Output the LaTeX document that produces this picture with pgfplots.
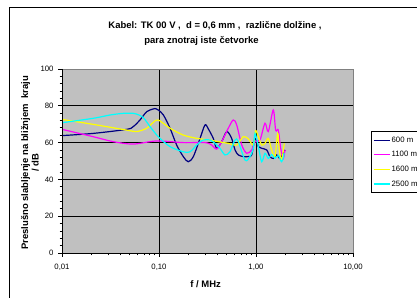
\documentclass[border=0pt]{standalone}
\usepackage{pgfplots}
\pgfplotsset{compat=1.18}
\usepackage{fontspec}
\setmainfont{Liberation Sans}
\definecolor{navyc}{HTML}{000080}
\definecolor{magc}{HTML}{FF00FF}
\definecolor{yelc}{HTML}{FFFF00}
\definecolor{cyac}{HTML}{00FFFF}
\definecolor{bgc}{HTML}{C0C0C0}
\definecolor{brd}{HTML}{808080}
\newcommand{\lblfont}{\fontsize{9.5}{11}\selectfont\bfseries}
\newcommand{\tickfont}{\fontsize{7.8}{9}\selectfont}
\begin{document}
\begin{tikzpicture}[x=1bp,y=1bp]
\useasboundingbox (0,0) rectangle (417,298);
\fill[white] (0,0) rectangle (417,298);
\draw[black, line width=1bp] (9.5,-5) -- (9.5,290.5) -- (430,290.5);
\node[font=\lblfont, anchor=base] at (215,270) {Kabel: TK 00 V ,~ d = 0,6 mm ,~ različne dolžine ,};
\node[font=\lblfont, anchor=base] at (201.5,255) {para znotraj iste četvorke};
\node[font=\lblfont, rotate=90, anchor=base] at (28,135) {Preslušno slabljenje na bližnjem~ kraju};
\node[font=\lblfont, rotate=90, anchor=base] at (38.5,135) {/ dB};
\node[font=\lblfont, anchor=base] at (205.7,11) {f / MHz};
\begin{axis}[
  at={(62bp,45bp)}, anchor=south west,
  scale only axis, width=291bp, height=184bp,
  xmode=log, xmin=0.01, xmax=10, ymin=0, ymax=100,
  xtick={0.01,0.1,1,10},
  xticklabels={{0,01},{0,10},{1,00},{10,00}},
  ytick={0,20,40,60,80,100},
  yticklabels={0,20,40,60,80,100},
  minor y tick num=4,
  xtick pos=bottom, ytick pos=left,
  tick align=outside,
  major tick length=4bp, minor tick length=2.5bp,
  tick style={black, line width=0.8bp},
  xmajorgrids, ymajorgrids,
  major grid style={black, line width=0.8bp},
  axis line style={draw=none},
  axis background/.style={fill=bgc},
  ticklabel style={font=\tickfont},
  xticklabel style={anchor=base, yshift=-12bp},
  yticklabel style={anchor=east, xshift=-1bp},
  legend style={at={(1.062,0.663)}, anchor=north west, draw=black, line width=0.8bp,
    inner sep=1.5bp, font=\tickfont,
    nodes={inner xsep=1.5bp, inner ysep=3.3bp, text height=6bp, text depth=2bp}},
  legend cell align=left,
  legend image code/.code={\draw[#1, line width=1.2bp] (0bp,0bp) -- (16bp,0bp);},
  every axis plot/.append style={line width=1.2bp, smooth, no markers},
  after end axis/.code={
    \draw[brd, line width=0.8bp] (rel axis cs:0,1) -- (rel axis cs:1,1) -- (rel axis cs:1,0);
    \draw[black, line width=0.8bp] (rel axis cs:0,1) -- (rel axis cs:0,0) -- (rel axis cs:1,0);
  },
]
\addplot[navyc] coordinates {
(0.01,63.8) (0.021,65.0) (0.0464,67.2) (0.0543,68.7) (0.0637,72.3) (0.0747,76.8)
(0.0874,78.3) (0.0909,78.5) (0.0984,77.7) (0.111,75.0) (0.130,67.8) (0.152,58.7)
(0.178,52.4) (0.200,49.6) (0.226,52.4) (0.265,62.3) (0.298,69.6) (0.322,67.5)
(0.363,62.3) (0.393,56.9) (0.443,60.5) (0.50,66.0) (0.561,62.3) (0.608,56.0)
(0.657,53.3) (0.740,52.4) (0.834,52.4) (0.903,53.3) (0.977,62.3) (1.057,57.8)
(1.145,56.9) (1.289,56.0) (1.393,52.4) (1.507,51.4) (1.634,53.3) (1.767,51.4)
(1.911,54.2) (1.99,56.0)
};
\addlegendentry{600 m}
\addplot[magc] coordinates {
(0.01,67.2) (0.021,63.2) (0.0338,60.5) (0.0543,59.2) (0.0947,60.9) (0.178,60.0)
(0.298,60.0) (0.349,58.7) (0.393,56.5) (0.443,60.5) (0.518,67.8) (0.583,72.3)
(0.632,69.6) (0.713,58.7) (0.802,54.2) (0.903,56.0) (0.977,60.5) (1.099,61.4)
(1.238,70.5) (1.339,66.0) (1.507,77.7) (1.595,66.8) (1.698,66.8) (1.797,56.9)
(1.911,51.4) (1.99,56.0)
};
\addlegendentry{1100 m}
\addplot[yelc] coordinates {
(0.01,72.6) (0.021,69.9) (0.0464,66.8) (0.0589,66.0) (0.0747,67.8) (0.0874,71.0)
(0.0984,72.3) (0.130,67.8) (0.178,64.1) (0.245,62.3) (0.336,61.4) (0.408,60.5)
(0.518,59.6) (0.632,58.7) (0.740,63.2) (0.834,62.0) (0.938,58.7) (0.99,66.5)
(1.057,63.2) (1.145,58.7) (1.238,59.6) (1.339,62.3) (1.451,56.0) (1.569,52.4)
(1.673,65.0) (1.739,56.0) (1.840,50.5) (1.957,59.6)
};
\addlegendentry{1600 m}
\addplot[cyac] coordinates {
(0.01,70.8) (0.021,73.2) (0.0313,75.0) (0.0429,75.9) (0.0543,75.9) (0.0589,75.5)
(0.0689,73.6) (0.0808,68.7) (0.0947,64.1) (0.1024,62.3) (0.130,57.8) (0.178,55.0)
(0.209,55.0) (0.245,58.7) (0.286,61.4) (0.336,61.4) (0.378,59.6) (0.425,56.9)
(0.479,53.3) (0.539,55.0) (0.632,62.0) (0.771,50.5) (0.867,52.4) (0.938,56.9)
(0.977,65.0) (1.057,57.8) (1.145,49.6) (1.238,54.2) (1.339,51.4) (1.451,53.5)
(1.569,51.4) (1.698,53.0) (1.840,49.6) (1.957,54.2)
};
\addlegendentry{2500 m}
\end{axis}
\end{tikzpicture}
\end{document}
